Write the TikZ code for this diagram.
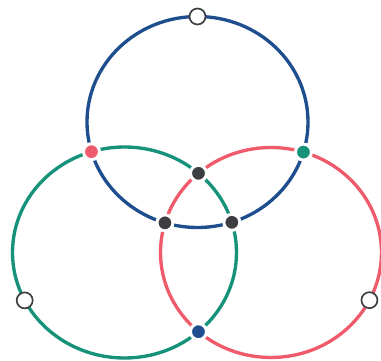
\documentclass[tikz,border=0pt]{standalone}
\usetikzlibrary{intersections, calc}
\definecolor{ringblue}{HTML}{1F4E8F}
\definecolor{ringgreen}{HTML}{16917A}
\definecolor{ringred}{HTML}{EF5B6B}
\definecolor{dotgray}{HTML}{3C3E42}

\begin{document}
\begin{tikzpicture}[
  x=0.03cm, y=0.03cm,
  ring/.style={line width=0.1cm},
  dot/.style={circle, inner sep=0pt, minimum size=0.48cm, draw=white, line width=0.09cm},
  hollow/.style={circle, inner sep=0pt, minimum size=0.48cm, draw=dotgray, fill=white, line width=0.05cm}
]
  \useasboundingbox (0,0) rectangle (381,361);

  \coordinate (cb) at (197.5,239);
  \coordinate (cg) at (124.5,108.5);
  \coordinate (cr) at (271,108.5);

  \draw[ring, ringblue, name path=blue] (cb) ellipse (110.5 and 105.5);
  \draw[ring, ringgreen, name path=green] (cg) ellipse (112 and 105.5);
  \draw[ring, ringred, name path=red] (cr) ellipse (110.5 and 105);

  \path[name intersections={of=blue and green, sort by=blue, by={bg1, bg2}}];
  \path[name intersections={of=blue and red, sort by=blue, by={br1, br2}}];
  \path[name intersections={of=green and red, sort by=green, by={gr1, gr2}}];

  \node[dot, fill=ringred] (nw) at (bg1) {};
  \node[dot, fill=dotgray] (inright) at (bg2) {};
  \node[dot, fill=dotgray] (inleft) at (br1) {};
  \node[dot, fill=ringgreen] (ne) at (br2) {};
  \node[dot, fill=dotgray] (intop) at (gr1) {};
  \node[dot, fill=ringblue] (south) at (gr2) {};

  \node[hollow] (north) at ($(cb)+(90:110.5 and 105.5)$) {};
  \node[hollow] (west) at ($(cg)+(207:112 and 105.5)$) {};
  \node[hollow] (east) at ($(cr)+(-27:110.5 and 105)$) {};
\end{tikzpicture}
\end{document}
